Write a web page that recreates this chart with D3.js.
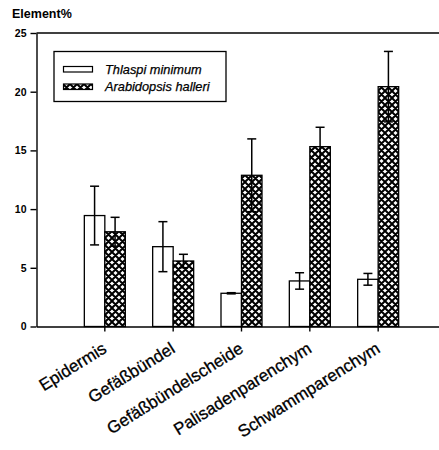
<!DOCTYPE html>
<html><head><meta charset="utf-8">
<script src="https://cdn.jsdelivr.net/npm/d3@7"></script>
<style>
html,body{margin:0;padding:0;background:#fff;}
svg{display:block;font-family:"Liberation Sans",Arial,sans-serif;}
</style></head>
<body>
<svg id="chart" width="439" height="450"></svg>
<script>
const categories = ["Epidermis","Gefäßbündel","Gefäßbündelscheide","Palisadenparenchym","Schwammparenchym"];
const seriesNames = ["Thlaspi minimum","Arabidopsis halleri"];
const thlaspi = [9.45, 6.8, 2.83, 3.88, 4.02];
const thlaspiErr = [2.5, 2.13, 0.05, 0.7, 0.5];
const arabidopsis = [8.07, 5.58, 12.88, 15.32, 20.43];
const arabidopsisErr = [1.23, 0.57, 3.1, 1.65, 3.0];
const yTicks = [0, 5, 10, 15, 20, 25];
const yTitle = "Element%";

const svg = d3.select("#chart");
const defs = svg.append("defs");
const pat = defs.append("pattern").attr("id","hatch").attr("patternUnits","userSpaceOnUse")
  .attr("width",7).attr("height",7);
pat.append("rect").attr("width",7).attr("height",7).attr("fill","#fff");
pat.append("path").attr("d","M-1,1 L1,-1 M0,7 L7,0 M6,8 L8,6 M-1,6 L1,8 M0,0 L7,7 M6,-1 L8,1")
  .attr("stroke","#000").attr("stroke-width",2);

const x = d3.scaleBand().domain(categories).range([36.5, 446.5]).paddingOuter(0.5).paddingInner(0);
const y = d3.scaleLinear().domain([0,25]).range([326.5, 33]);
const bw = x.bandwidth()*0.3;
const cx = c => x(c) + x.bandwidth()/2;

// top frame line
svg.append("line").attr("x1",36.5).attr("x2",446.5).attr("y1",y(25)).attr("y2",y(25))
  .attr("stroke","#000").attr("stroke-width",1.4);

const series = [
  {vals: thlaspi, errs: thlaspiErr, fill:"#fff", off:-1},
  {vals: arabidopsis, errs: arabidopsisErr, fill:"url(#hatch)", off:0}
];
series.forEach(s => {
  const g = svg.append("g");
  g.selectAll("rect").data(categories).join("rect")
    .attr("x", (c) => cx(c) + s.off*bw)
    .attr("width", bw)
    .attr("y", (c,i) => y(s.vals[i]))
    .attr("height", (c,i) => y(0) - y(s.vals[i]))
    .attr("fill", s.fill).attr("stroke","#000").attr("stroke-width",1.3);
  const e = g.selectAll("g.err").data(categories).join("g").attr("class","err");
  const ex = c => cx(c) + s.off*bw + bw/2;
  e.append("line").attr("x1",ex).attr("x2",ex)
    .attr("y1",(c,i)=>y(s.vals[i]+s.errs[i])).attr("y2",(c,i)=>y(s.vals[i]-s.errs[i]))
    .attr("stroke","#000").attr("stroke-width",1.5);
  [1,-1].forEach(sg => {
    e.append("line").attr("x1",c=>ex(c)-4.5).attr("x2",c=>ex(c)+4.5)
      .attr("y1",(c,i)=>y(s.vals[i]+sg*s.errs[i])).attr("y2",(c,i)=>y(s.vals[i]+sg*s.errs[i]))
      .attr("stroke","#000").attr("stroke-width",1.5);
  });
});

// axes
const yAxis = svg.append("g").attr("transform","translate(36.5,0)")
  .call(d3.axisLeft(y).tickValues(yTicks).tickSize(6).tickSizeOuter(0).tickPadding(4));
yAxis.selectAll("text").attr("font-size",10.5).attr("font-weight","bold").attr("fill","#000")
  .attr("font-family","'Liberation Sans',Arial,sans-serif");
yAxis.selectAll("path,line").attr("stroke","#000").attr("stroke-width",1.4);

const xAxis = svg.append("g").attr("transform",`translate(0,${y(0)})`)
  .call(d3.axisBottom(x).tickSize(5).tickSizeOuter(0));
xAxis.selectAll("path,line").attr("stroke","#000").attr("stroke-width",1.4);
xAxis.selectAll("text").attr("font-size",17).attr("fill","#000")
  .attr("font-family","'Liberation Sans',Arial,sans-serif")
  .attr("stroke","#000").attr("stroke-width",0.3)
  .attr("text-anchor","end").attr("dy",null).attr("y",null)
  .attr("transform","translate(3,25) rotate(-32)");

// y title
svg.append("text").attr("x",12).attr("y",18).text(yTitle)
  .attr("font-size",12.5).attr("font-weight","bold");

// legend
const lg = svg.append("g");
lg.append("rect").attr("x",54).attr("y",51.5).attr("width",172).attr("height",50)
  .attr("fill","#fff").attr("stroke","#000").attr("stroke-width",1.3);
const lfills = ["#fff","url(#hatch)"];
seriesNames.forEach((n,i) => {
  lg.append("rect").attr("x",63.5).attr("y",66.5+i*17.5).attr("width",29).attr("height",5.5)
    .attr("fill",lfills[i]).attr("stroke","#000").attr("stroke-width",1.2);
  lg.append("text").attr("x",105).attr("y",73.5+i*17.3).text(n)
    .attr("font-size",12.8).attr("font-style","italic")
    .attr("stroke","#000").attr("stroke-width",0.25);
});
</script>
</body></html>
